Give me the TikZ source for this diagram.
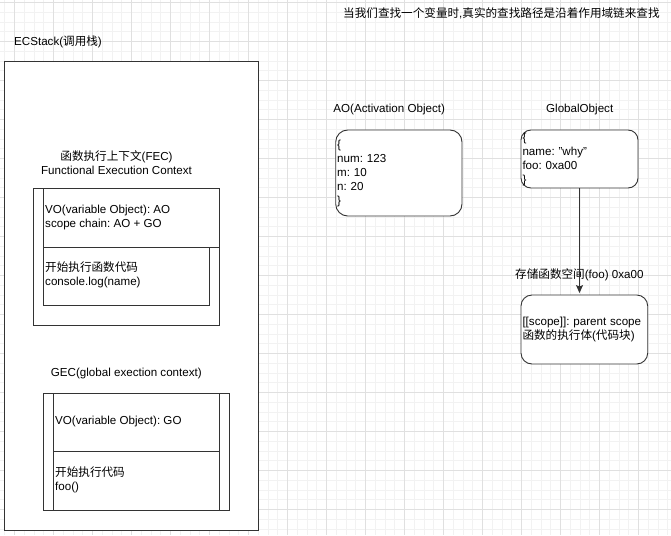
\documentclass[tikz,border=0pt]{standalone}
\usepackage{fontspec}
\setmainfont{Liberation Sans}
\newfontfamily\cjk{Noto Sans CJK SC}
\usetikzlibrary{arrows.meta}
\frenchspacing

\tikzset{
  gridminor/.style = {draw = black!5, line width = 0.5pt},
  gridmajor/.style = {draw = black!12, line width = 0.8pt},
  frame/.style = {draw = black!80, fill = white, line width = 0.9pt, inner sep = 0pt},
  card/.style = {frame, rounded corners = 12pt, inner xsep = 1.5pt, inner ysep = 0pt, align = left},
  txt/.style = {inner sep = 0pt, align = left}
}

\begin{document}
\begin{tikzpicture}[x = 1pt, y = -1pt, font = \fontsize{11.6}{14}\selectfont]
\useasboundingbox (0, 0) rectangle (671, 535);
\fill [white] (0, 0) rectangle (671, 535);
\foreach \i in {0, ..., 68}
  \draw [gridminor] ({4.55 + 9.75*\i}, 0) -- ++(0, 535);
\foreach \i in {0, ..., 54}
  \draw [gridminor] (0, {2.3 + 9.75*\i}) -- ++(671, 0);
\foreach \i in {0, ..., 16}
  \draw [gridmajor] ({14.3 + 39*\i}, 0) -- ++(0, 535);
\foreach \i in {0, ..., 13}
  \draw [gridmajor] (0, {2.3 + 39*\i}) -- ++(671, 0);

\node [txt, anchor = west] (title) at (343, 13)
    {{\cjk 当我们查找一个变量时},{\cjk 真实的查找路径是沿着作用域链来查找}};

\node [txt, anchor = west] (stacktitle) at (14, 42) {ECStack({\cjk 调用栈})};
\node [frame, anchor = north west, minimum width = 254, minimum height = 469] (ecstack) at (4, 61) {};

\node [txt, align = center] (fectitle) at (116.5, 163)
    {{\cjk 函数执行上下文}(FEC)\\Functional Execution Context};
\node [frame, anchor = north west, minimum width = 186, minimum height = 137] (fec) at (33, 188) {};
\node [frame, anchor = north west, minimum width = 166, minimum height = 58] (fecrun) at (43, 247) {};
\draw [frame] (43, 188) -- (fecrun.north west);
\draw [frame] (fecrun.north east) -- (fec.east |- fecrun.north);
\node [txt, anchor = west] (fecvo) at (45, 217) {VO(variable Object): AO\\scope chain: AO + GO};
\node [txt, anchor = west] (feccode) at (45, 275) {{\cjk 开始执行函数代码}\\console.log(name)};

\node [txt, anchor = west] (gectitle) at (50.7, 373.3) {GEC(global exection context)};
\node [frame, anchor = north west, minimum width = 186, minimum height = 117] (gec) at (43, 393) {};
\draw [frame] (53, 393) -- (53, 510);
\draw [frame] (219, 393) -- (219, 510);
\draw [frame] (53, 451) -- (219, 451);
\node [txt, anchor = west] (gecvo) at (55, 421.7) {VO(variable Object): GO};
\node [txt, anchor = west] (geccode) at (55, 480) {{\cjk 开始执行代码}\\foo()};

\node [txt] (aotitle) at (389.2, 110) {AO(Activation Object)};
\node [card, minimum height = 86, text width = 123.3] (ao) at (398.85, 173)
    {\{\\num: 123\\m: 10\\n: 20\\\}};

\node [txt] (gotitle) at (579.7, 110) {GlobalObject};
\node [card, rounded corners = 10pt, minimum height = 58, text width = 114] (go) at (579.5, 159)
    {\{\\name: "why"\\foo: 0xa00\\\}};

\node [card, rounded corners = 11pt, minimum height = 69, text width = 123.7] (foobody) at (584.35, 329.5)
    {[[scope]]: parent scope\\{\cjk 函数的执行体}({\cjk 代码块})};
\node [txt, anchor = west] (fooaddr) at (515, 275) {{\cjk 存储函数空间}(foo) 0xa00};

\draw [frame, shorten >= 1.5pt, -{Stealth[length = 8pt, width = 7pt, inset = 1.5pt]}]
    (go.south) -- (go.south |- foobody.north);
\end{tikzpicture}
\end{document}
